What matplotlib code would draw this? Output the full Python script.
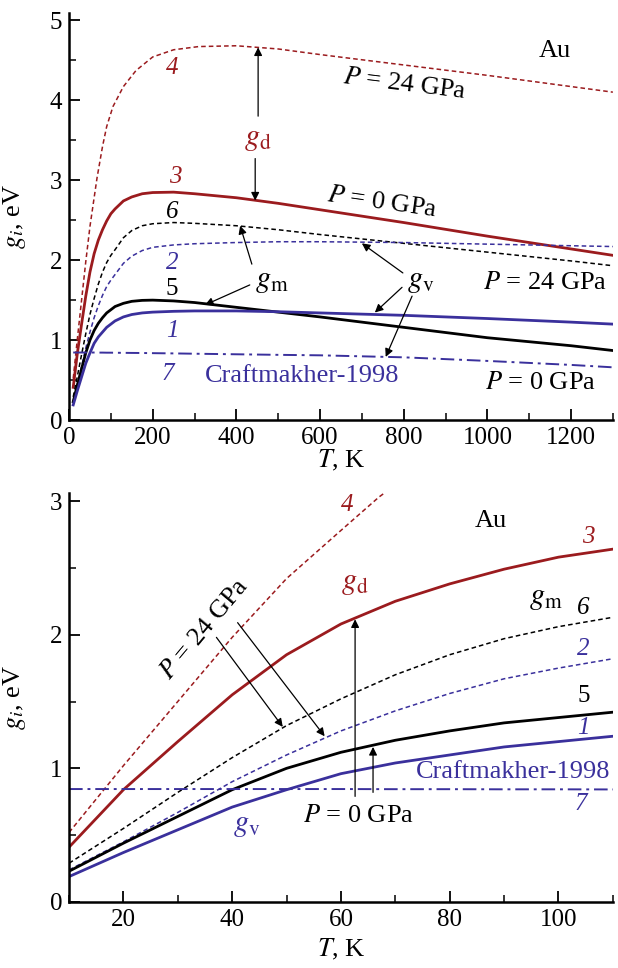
import numpy as np
import matplotlib
matplotlib.use("Agg")
import matplotlib.pyplot as plt
from matplotlib.ticker import MultipleLocator

plt.rcParams["font.family"] = ["Liberation Serif", "DejaVu Serif"]
plt.rcParams["mathtext.fontset"] = "stix"

RED = "#9b1b1e"
BLUE = "#3a309c"

# temperature grid, K
T = [10, 20, 30, 40, 50, 60, 70, 80, 90, 100, 110,
     130, 150, 175, 200, 250, 300, 400, 500, 600, 800, 1000, 1200, 1300]

# curve 1: g_v, P = 0 GPa
g1 = [0.19, 0.37, 0.54, 0.71, 0.84, 0.96, 1.04, 1.10, 1.16, 1.20, 1.24,
      1.29, 1.32, 1.34, 1.35, 1.36, 1.365, 1.365, 1.355, 1.34, 1.31, 1.27, 1.225, 1.20]
# curve 2: g_v, P = 24 GPa
g2 = [0.24, 0.45, 0.67, 0.90, 1.10, 1.28, 1.43, 1.56, 1.67, 1.75, 1.82,
      1.96, 2.05, 2.12, 2.16, 2.19, 2.205, 2.22, 2.23, 2.23, 2.22, 2.20, 2.18, 2.17]
# curve 3: g_d, P = 0 GPa
g3 = [0.41, 0.84, 1.20, 1.55, 1.85, 2.08, 2.25, 2.38, 2.49, 2.58, 2.64,
      2.74, 2.79, 2.83, 2.845, 2.85, 2.83, 2.78, 2.71, 2.63, 2.47, 2.30, 2.14, 2.06]
# curve 5: g_m, P = 0 GPa
g5 = [0.23, 0.44, 0.64, 0.84, 1.00, 1.12, 1.21, 1.28, 1.34, 1.38, 1.42,
      1.46, 1.485, 1.497, 1.50, 1.49, 1.47, 1.41, 1.35, 1.29, 1.16, 1.03, 0.93, 0.87]
# curve 6: g_m, P = 24 GPa
g6 = [0.29, 0.55, 0.82, 1.08, 1.32, 1.52, 1.70, 1.85, 1.97, 2.06, 2.13,
      2.28, 2.37, 2.43, 2.455, 2.47, 2.46, 2.43, 2.38, 2.32, 2.21, 2.10, 1.99, 1.93]
# curve 7: Craftmakher-1998
g7 = [0.845, 0.845, 0.845, 0.845, 0.845, 0.845, 0.844, 0.844, 0.843, 0.843, 0.842,
      0.841, 0.84, 0.839, 0.837, 0.834, 0.83, 0.823, 0.816, 0.81, 0.785, 0.74, 0.69, 0.66]

# curve 4: g_d, P = 24 GPa
T4 = [10, 20, 30, 40, 50, 60, 67, 80, 90, 105, 130, 160, 200, 250, 310, 400,
      500, 600, 800, 1000, 1200, 1300]
g4 = [0.52, 1.02, 1.50, 1.98, 2.42, 2.78, 3.03, 3.42, 3.67, 3.92, 4.17, 4.37,
      4.54, 4.63, 4.67, 4.68, 4.64, 4.57, 4.44, 4.31, 4.17, 4.10]


def draw_curves(ax):
    ax.plot(T4, g4, color=RED, lw=1.1, ls=(0, (3, 2)))
    ax.plot(T, g3, color=RED, lw=2.0)
    ax.plot(T, g6, color="k", lw=1.1, ls=(0, (3, 2)))
    ax.plot(T, g2, color=BLUE, lw=1.1, ls=(0, (3, 2)))
    ax.plot(T, g5, color="k", lw=2.0)
    ax.plot(T, g1, color=BLUE, lw=2.0)
    ax.plot(T, g7, color=BLUE, lw=1.4, ls=(0, (7, 2.5, 1.5, 2.5)))


def style_axes(ax, xlab_y):
    for s in ["top", "right"]:
        ax.spines[s].set_visible(False)
    for s in ["left", "bottom"]:
        ax.spines[s].set_linewidth(1.8)
    ax.tick_params(which="major", direction="in", length=8, width=1.3,
                   labelsize=18, pad=5)
    ax.tick_params(which="minor", direction="in", length=5, width=1.1)
    ax.set_ylabel("$g_i$, eV", fontsize=19)
    ax.set_xlabel("$T$, K", fontsize=19)
    ax.yaxis.set_label_coords(-0.075, 0.5)
    ax.xaxis.set_label_coords(0.5, xlab_y)


def arrow(ax, start, end):
    ax.annotate("", xy=end, xytext=start,
                arrowprops=dict(arrowstyle="-|>", color="k", lw=0.9,
                                mutation_scale=12, shrinkA=0, shrinkB=0))


fig = plt.figure(figsize=(6.18, 9.68), dpi=100)

fs = 19      # annotation text
fn = 18      # curve numbers
fg = 22      # g labels

# ---- top panel ----
ax1 = fig.add_axes([0.1117, 0.566, 0.880, 0.4206])
draw_curves(ax1)
ax1.set_xlim(0, 1300)
ax1.set_ylim(0, 5.09)
ax1.xaxis.set_major_locator(MultipleLocator(200))
ax1.xaxis.set_minor_locator(MultipleLocator(100))
ax1.yaxis.set_major_locator(MultipleLocator(1))
ax1.yaxis.set_minor_locator(MultipleLocator(0.5))
style_axes(ax1, -0.069)

ax1.text(246, 4.4, "4", color=RED, fontsize=fn, style="italic", ha="center", va="center")
ax1.text(253, 3.04, "3", color=RED, fontsize=fn, style="italic", ha="center", va="center")
ax1.text(246, 2.6, "6", color="k", fontsize=fn, style="italic", ha="center", va="center")
ax1.text(246, 1.96, "2", color=BLUE, fontsize=fn, style="italic", ha="center", va="center")
ax1.text(246, 1.64, "5", color="k", fontsize=fn, ha="center", va="center")
ax1.text(246, 1.11, "1", color=BLUE, fontsize=fn, style="italic", ha="center", va="center")
ax1.text(237, 0.58, "7", color=BLUE, fontsize=fn, style="italic", ha="center", va="center")
ax1.text(325, 0.55, "Craftmakher-1998", color=BLUE, fontsize=fs, ha="left", va="center")
ax1.text(1161, 4.62, "Au", color="k", fontsize=fs, ha="center", va="center")

ax1.text(452, 3.52, "$g_\\mathrm{d}$", color=RED, fontsize=fg, ha="center", va="center")
arrow(ax1, (452, 3.8), (452, 4.66))
arrow(ax1, (445, 3.27), (445, 2.745))

ax1.text(803, 4.2, "$P$ = 24 GPa", fontsize=fs, rotation=-7, ha="center", va="center")
ax1.text(748, 2.72, "$P$ = 0 GPa", fontsize=fs, rotation=-8, ha="center", va="center")
ax1.text(1137, 1.72, "$P$ = 24 GPa", fontsize=fs, ha="center", va="center")
ax1.text(1128, 0.46, "$P$ = 0 GPa", fontsize=fs, ha="center", va="center")

ax1.text(485, 1.75, "$g_\\mathrm{m}$", color="k", fontsize=fg, ha="center", va="center")
arrow(ax1, (437, 1.95), (409, 2.43))
arrow(ax1, (432, 1.69), (325, 1.44))

ax1.text(841, 1.74, "$g_\\mathrm{v}$", color="k", fontsize=fg, ha="center", va="center")
arrow(ax1, (798, 1.84), (700, 2.21))
arrow(ax1, (796, 1.66), (731, 1.345))
arrow(ax1, (820, 1.55), (757, 0.79))

# ---- bottom panel ----
ax2 = fig.add_axes([0.1117, 0.0682, 0.880, 0.4225])
draw_curves(ax2)
ax2.set_xlim(10, 110)
ax2.set_ylim(0, 3.06)
ax2.xaxis.set_major_locator(MultipleLocator(20))
ax2.xaxis.set_minor_locator(MultipleLocator(10))
ax2.yaxis.set_major_locator(MultipleLocator(1))
ax2.yaxis.set_minor_locator(MultipleLocator(0.5))
style_axes(ax2, -0.086)

ax2.text(87.5, 2.85, "Au", color="k", fontsize=fs, ha="center", va="center")
ax2.text(61.1, 2.97, "4", color=RED, fontsize=fn, style="italic", ha="center", va="center")
ax2.text(105.4, 2.73, "3", color=RED, fontsize=fn, style="italic", ha="center", va="center")
ax2.text(62.6, 2.39, "$g_\\mathrm{d}$", color=RED, fontsize=fg, ha="center", va="center")
arrow(ax2, (62.6, 0.79), (62.6, 2.115))
ax2.text(97.6, 2.28, "$g_\\mathrm{m}$", color="k", fontsize=fg, ha="center", va="center")
ax2.text(104.5, 2.2, "6", color="k", fontsize=fn, style="italic", ha="center", va="center")
ax2.text(104.6, 1.89, "2", color=BLUE, fontsize=fn, style="italic", ha="center", va="center")
ax2.text(104.6, 1.54, "5", color="k", fontsize=fn, ha="center", va="center")
ax2.text(104.6, 1.30, "1", color=BLUE, fontsize=fn, style="italic", ha="center", va="center")
ax2.text(109.6, 0.97, "Craftmakher-1998", color=BLUE, fontsize=fs, ha="right", va="center")
ax2.text(104.1, 0.73, "7", color=BLUE, fontsize=fn, style="italic", ha="center", va="center")
ax2.text(53.0, 0.64, "$P$ = 0 GPa", fontsize=fs, ha="left", va="center")
arrow(ax2, (65.9, 0.82), (65.9, 1.16))
ax2.text(42.7, 0.58, "$g_\\mathrm{v}$", color=BLUE, fontsize=fg, ha="center", va="center")
ax2.text(34.9, 2.04, "$P$ = 24 GPa", fontsize=fs, rotation=50, ha="center", va="center")
arrow(ax2, (37.1, 1.98), (49.3, 1.31))
arrow(ax2, (41.0, 2.09), (57.0, 1.24))

fig.savefig("out.png", dpi=100)
